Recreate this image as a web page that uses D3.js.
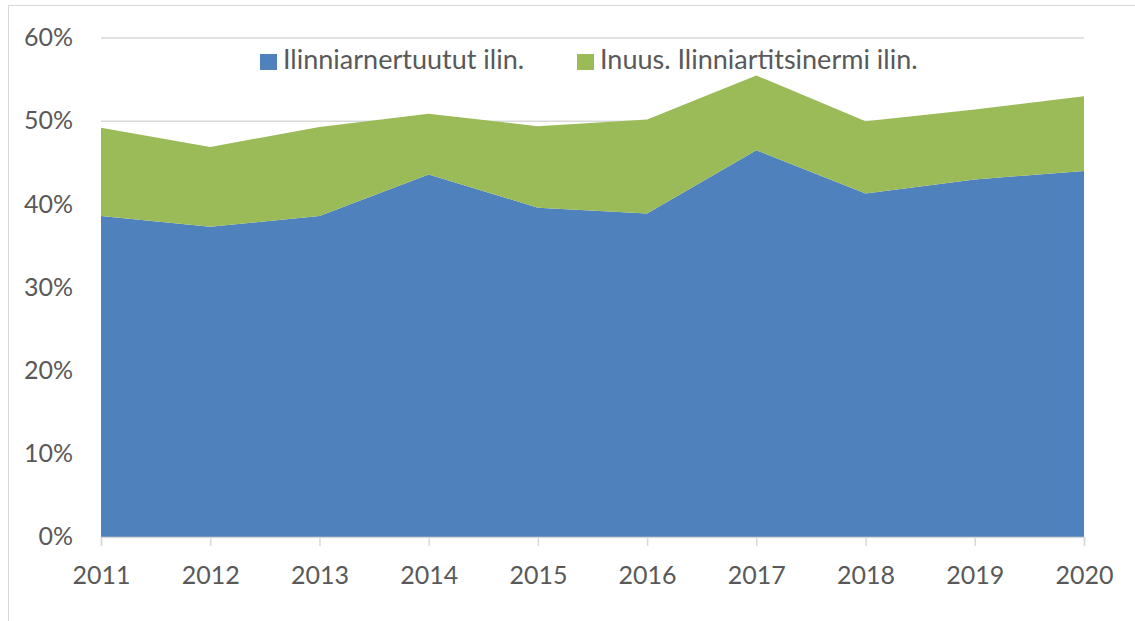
<!DOCTYPE html>
<html>
<head>
<meta charset="utf-8">
<script src="https://cdn.jsdelivr.net/npm/d3@7"></script>
<style>
  body { margin: 0; background: #fff; }
  text { font-family: Lato, "Open Sans", sans-serif; fill: #595959; }
</style>
</head>
<body>
<svg id="chart" width="1135" height="621"></svg>
<script>
const years = [2011, 2012, 2013, 2014, 2015, 2016, 2017, 2018, 2019, 2020];
const ilinniarnertuutut = [0.386, 0.373, 0.386, 0.436, 0.396, 0.389, 0.465, 0.413, 0.430, 0.440];
const inuus = [0.106, 0.096, 0.107, 0.073, 0.098, 0.113, 0.090, 0.087, 0.084, 0.090];
const seriesNames = ["Ilinniarnertuutut ilin.", "Inuus. Ilinniartitsinermi ilin."];
const seriesColors = ["#4f81bd", "#9bbb59"];
const yTicks = [0, 0.1, 0.2, 0.3, 0.4, 0.5, 0.6];

const margin = { top: 38, right: 51, bottom: 84, left: 101 };
const W = 1135, H = 621;
const width = W - margin.left - margin.right;
const height = H - margin.top - margin.bottom;
const fontFam = "Lato, 'Open Sans', sans-serif";

const svg = d3.select("#chart");

// outer chart border (cropped on right and bottom in the original)
svg.append("rect")
    .attr("x", 8.5).attr("y", 5.5)
    .attr("width", 1200).attr("height", 700)
    .attr("fill", "none")
    .attr("stroke", "#d9d9d9");

const g = svg.append("g")
    .attr("transform", `translate(${margin.left},${margin.top})`);

const x = d3.scalePoint().domain(years).range([0, width]);
const y = d3.scaleLinear().domain([0, 0.6]).range([height, 0]);

// gridlines
g.append("g")
    .selectAll("line")
    .data(yTicks.slice(1))
    .enter().append("line")
    .attr("x1", 0).attr("x2", width)
    .attr("y1", d => y(d)).attr("y2", d => y(d))
    .attr("stroke", "#d9d9d9")
    .attr("stroke-width", 1.5);

// stacked areas
const table = years.map((yr, i) => ({ year: yr, a: ilinniarnertuutut[i], b: inuus[i] }));
const stack = d3.stack().keys(["a", "b"]);
const layers = stack(table);

const area = d3.area()
    .x(d => x(d.data.year))
    .y0(d => y(d[0]))
    .y1(d => y(d[1]));

g.selectAll(".layer")
    .data(layers)
    .enter().append("path")
    .attr("class", "layer")
    .attr("d", area)
    .attr("fill", (d, i) => seriesColors[i]);

// y axis labels
g.append("g")
    .selectAll("text")
    .data(yTicks)
    .enter().append("text")
    .attr("x", -28)
    .attr("y", d => y(d))
    .attr("dy", "0.33em")
    .attr("text-anchor", "end")
    .style("font-size", "25px")
    .text(d => d3.format(".0%")(d));

// x axis
const xAxis = g.append("g")
    .attr("transform", `translate(0,${height})`)
    .call(d3.axisBottom(x).tickSize(9).tickPadding(20));
xAxis.select(".domain").attr("stroke", "#d9d9d9").attr("stroke-width", 1.5);
xAxis.selectAll(".tick line").attr("stroke", "#d9d9d9").attr("stroke-width", 1.5);
xAxis.selectAll(".tick text")
    .style("font-size", "25px")
    .style("font-family", fontFam)
    .attr("fill", "#595959");

// legend
const legendPos = [260, 577];
const legend = svg.append("g");
seriesNames.forEach((name, i) => {
    legend.append("rect")
        .attr("x", legendPos[i]).attr("y", 54)
        .attr("width", 17).attr("height", 16)
        .attr("fill", seriesColors[i]);
    legend.append("text")
        .attr("x", legendPos[i] + 23).attr("y", 69)
        .style("font-size", "27px")
        .text(name);
});
</script>
</body>
</html>
